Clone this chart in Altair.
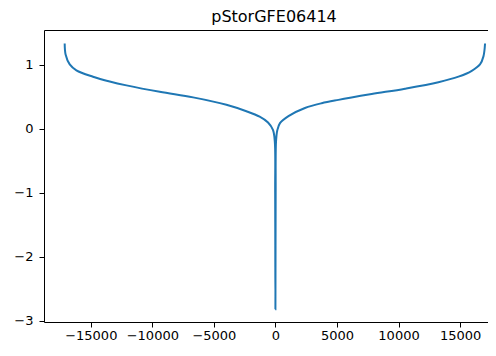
import altair as alt
import pandas as pd

title_text = "pStorGFE06414"

# curve traced in drawing order: left branch -> stem down -> stem up -> right branch
left_x = [-17120, -17040, -16710, -16170, -14820, -13460, -12100, -9400, -6690, -3980, -2360, -1280, -600, -200, -50]
left_y = [1.33, 1.153, 1.002, 0.911, 0.811, 0.736, 0.675, 0.574, 0.488, 0.373, 0.272, 0.186, 0.095, -0.02, -0.2]
stem_x = [-20, 0, 20]
stem_y = [-1.0, -2.82, -1.0]
right_x = [50, 150, 370, 1060, 2400, 3760, 5120, 7820, 10530, 13240, 14870, 15950, 16620, 16900, 17030]
right_y = [-0.2, -0.03, 0.086, 0.196, 0.322, 0.397, 0.449, 0.539, 0.624, 0.725, 0.811, 0.902, 1.002, 1.128, 1.33]

x_ticks = [-15000, -10000, -5000, 0, 5000, 10000, 15000]
y_ticks = [-3, -2, -1, 0, 1]

xs = left_x + stem_x + right_x
ys = left_y + stem_y + right_y
df = pd.DataFrame({"x": xs, "y": ys, "i": list(range(len(xs)))})

FONT = "DejaVu Sans"
W, H = 444, 292

line = (
    alt.Chart(df)
    .mark_line(color="#1f77b4", strokeWidth=2, interpolate="catmull-rom")
    .encode(
        x=alt.X(
            "x:Q",
            scale=alt.Scale(domain=[-18800, 17270], nice=False, zero=False),
            axis=alt.Axis(values=x_ticks, format="d", title=None, grid=False, domain=True,
                          domainColor="#000", tickSize=5, tickColor="#000", labelPadding=2),
        ),
        y=alt.Y(
            "y:Q",
            scale=alt.Scale(domain=[-3.02, 1.54], nice=False, zero=False),
            axis=alt.Axis(values=y_ticks, format="d", title=None, grid=False, domain=True,
                          domainColor="#000", tickSize=5, tickColor="#000", labelPadding=6),
        ),
        order=alt.Order("i:Q"),
    )
)

# top spine of the axes frame (right spine lies outside the visible area)
top_spine = (
    alt.Chart(pd.DataFrame({"a": [0]}))
    .mark_rule(color="#000", strokeWidth=1)
    .encode(x=alt.value(0.5), x2=alt.value(W), y=alt.value(0.5))
)

chart = (
    alt.layer(line, top_spine)
    .properties(
        width=W,
        height=H,
        autosize=alt.AutoSizeParams(type="none"),
        padding={"left": 36, "top": 22, "right": 0, "bottom": 22},
        title=alt.TitleParams(title_text, font=FONT, fontSize=16, fontWeight="normal",
                              color="#000", anchor="middle", dx=8, dy=15, offset=7,
                              baseline="alphabetic"),
    )
    .configure_view(stroke=None)
    .configure_axis(labelFont=FONT, labelFontSize=13, labelColor="#000")
)

chart.save("out.html", embed_options={"renderer": "svg", "actions": False})
